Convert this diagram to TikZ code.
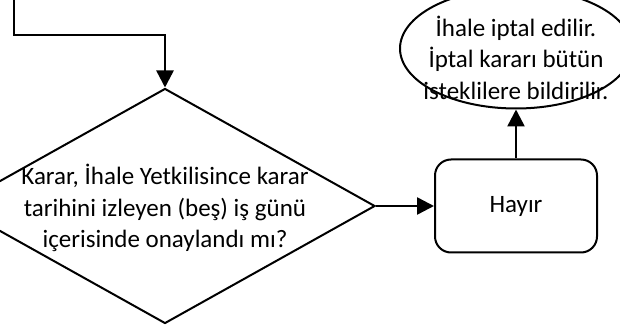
\documentclass[tikz,border=0pt]{standalone}
\usepackage{fontspec}
\setmainfont{Carlito}
\usetikzlibrary{shapes,arrows.meta,positioning}
\tikzset{
  every node/.style={
    font=\fontsize{25}{31.5}\selectfont
  },
  decision/.style={
    shape=diamond,
    draw=black,
    line width=2pt,
    minimum width=420pt,
    minimum height=235pt,
    inner sep=0pt
  },
  outcome/.style={
    shape=rectangle,
    rounded corners=16pt,
    draw=black,
    line width=2pt,
    minimum width=162pt,
    minimum height=93pt
  },
  terminal/.style={
    shape=ellipse,
    draw=black,
    line width=2pt,
    minimum width=232pt,
    minimum height=120pt,
    inner sep=0pt
  },
  flow/.style={
    line width=2.5pt,
    -{Triangle[length=17pt,width=17pt]}
  }
}
\begin{document}
\begin{tikzpicture}[x=1pt,y=-1pt]
\useasboundingbox (0,0) rectangle (620,328);
\clip (0,0) rectangle (620,328);

\node [decision] (soru) at (165,206) {};
\node [align=center, yshift=-2pt] (soruyazi) at (soru.center) {
  Karar, İhale Yetkilisince karar\\
  tarihini izleyen (beş) iş günü\\
  içerisinde onaylandı mı?
};
\node [outcome, right=58pt of soru] (hayir) {Hayır};
\node [terminal, above=49pt of hayir] (iptal) {};
\node [align=center, yshift=-9pt] (iptalyazi) at (iptal.center) {
  İhale iptal edilir.\\
  İptal kararı bütün\\
  isteklilere bildirilir.
};

\coordinate (giris) at (14,-2);
\coordinate (kose) at (14,35);
\draw [flow] (giris) -- (kose) -| (soru.north);
\draw [flow] (soru.east) -- (hayir.west);
\draw [flow] (hayir.north) -- (iptal.south);

\end{tikzpicture}
\end{document}
